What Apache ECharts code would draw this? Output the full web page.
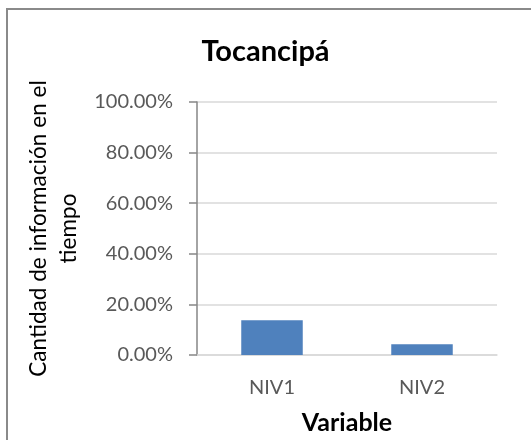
<!DOCTYPE html>
<html>
<head>
<meta charset="utf-8">
<script src="https://cdn.jsdelivr.net/npm/echarts@6/dist/echarts.min.js"></script>
<style>html,body{margin:0;padding:0;background:#fff;}#c{width:531px;height:440px;}</style>
</head>
<body>
<div id="c"></div>
<script>
const categories = ['NIV1', 'NIV2'];
const values = [13.7, 4.2];
const chartTitle = 'Tocancipá';
const xName = 'Variable';
const yName = 'Cantidad de información en el\ntiempo';

const chart = echarts.init(document.getElementById('c'), null, {renderer: 'canvas'});
const FONT = 'Lato';
chart.setOption({
  animation: false,
  backgroundColor: '#fff',
  textStyle: {fontFamily: FONT},
  graphic: [{
    type: 'rect', z: -1, silent: true,
    shape: {x: 7, y: 9, width: 700, height: 700},
    style: {fill: 'none', stroke: '#8a8a8a', lineWidth: 2}
  }],
  title: {
    text: chartTitle, left: 'center', top: 32,
    textStyle: {fontFamily: FONT, fontWeight: 'bold', fontSize: 29, color: '#000'}
  },
  grid: {left: 197, right: 34, top: 102, bottom: 83, containLabel: false},
  xAxis: {
    type: 'category', data: categories,
    name: xName, nameLocation: 'middle', nameGap: 55,
    nameTextStyle: {fontFamily: FONT, fontWeight: 'bold', fontSize: 25, color: '#000'},
    axisLine: {lineStyle: {color: '#d9d9d9', width: 1.5}},
    axisTick: {show: false},
    axisLabel: {fontFamily: FONT, fontSize: 20, color: '#595959', margin: 23}
  },
  yAxis: {
    type: 'value', min: 0, max: 100, interval: 20,
    name: yName, nameLocation: 'middle', nameRotate: 90, nameGap: 110,
    nameTextStyle: {fontFamily: FONT, fontSize: 22.6, color: '#000', lineHeight: 30, align: 'center'},
    axisLine: {show: true, lineStyle: {color: '#868686', width: 1.5}},
    axisTick: {show: true, length: 8, lineStyle: {color: '#868686', width: 1.5}},
    splitLine: {lineStyle: {color: '#d9d9d9', width: 1.5}},
    axisLabel: {fontFamily: FONT, fontSize: 20, color: '#595959', margin: 24,
      formatter: v => v.toFixed(2) + '%'}
  },
  series: [{
    type: 'bar', data: values, barWidth: '41%',
    itemStyle: {color: '#4f81bd'}
  }]
});
</script>
</body>
</html>
